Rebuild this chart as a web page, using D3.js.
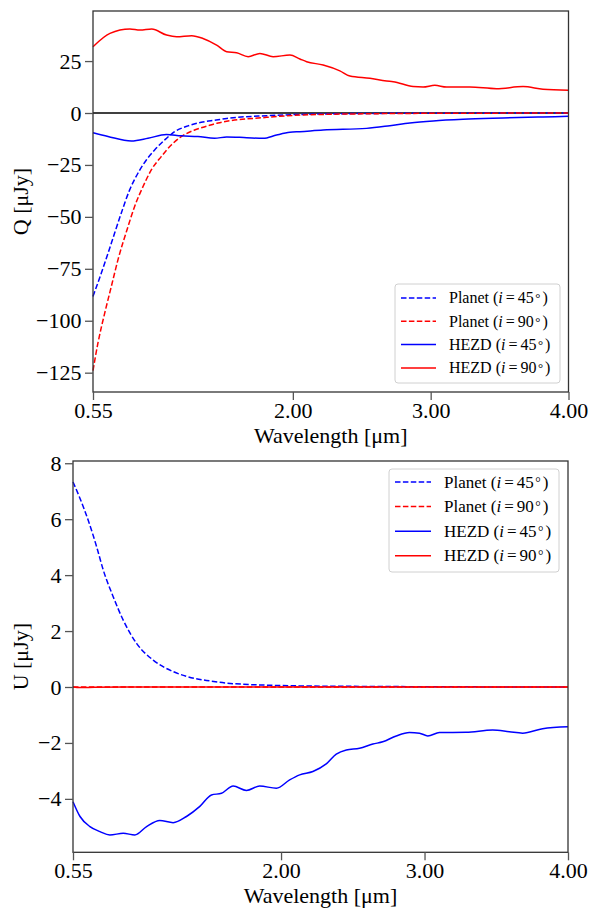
<!DOCTYPE html>
<html>
<head>
<meta charset="utf-8">
<script src="https://cdn.jsdelivr.net/npm/d3@7"></script>
<style>
    body { margin: 0; background: #fff; }
    svg text { font-family: "Liberation Serif", "DejaVu Serif", serif; }
</style>
</head>
<body>
<script>
// wavelength ticks (shared by both panels)
const xTicks = [0.55, 2.00, 3.00, 4.00];
const qTicks = [-125, -100, -75, -50, -25, 0, 25];
const uTicks = [-4, -2, 0, 2, 4, 6, 8];

const seriesNames = ['Planet', 'Planet', 'HEZD', 'HEZD'];
const seriesIncl = ['45', '90', '45', '90'];

// Q panel, [wavelength (um), Q (uJy)]
const qPlanet45 = [[0.55, -88.3], [0.61, -77.1], [0.659, -67.5], [0.707, -57.8], [0.755, -48.2], [0.816, -37.0],
    [0.876, -29.0], [0.937, -22.6], [0.997, -17.8], [1.07, -13.0], [1.142, -9.0], [1.239, -6.2], [1.335, -4.5],
    [1.444, -3.4], [1.52, -2.6], [1.81, -1.3], [2.1, -0.6], [2.5, -0.25], [3.0, -0.1], [3.5, -0.04], [4.0, -0.02]];
const qPlanet90 = [[0.55, -124], [0.586, -110.7], [0.635, -96.3], [0.683, -83.5], [0.731, -70.7], [0.804, -54.7],
    [0.852, -45.0], [0.913, -35.4], [0.973, -27.4], [1.045, -21.0], [1.118, -15.4], [1.19, -11.4], [1.287, -8.2],
    [1.384, -6.2], [1.457, -4.8], [1.81, -2.1], [2.05, -1.0], [2.5, -0.4], [3.0, -0.15], [3.5, -0.06], [4.0, -0.03]];
const qHezd45 = [[0.55, -9.5], [0.659, -11.3], [0.828, -13.5], [0.949, -12.2], [1.082, -10.3], [1.19, -11.0],
    [1.311, -11.3], [1.432, -12.2], [1.52, -11.5], [1.665, -11.9], [1.785, -12.2], [1.882, -10.6], [1.979, -9.3],
    [2.051, -9.0], [2.22, -8.2], [2.535, -7.4], [2.704, -6.1], [2.849, -4.8], [3.018, -3.8], [3.235, -3.0],
    [3.525, -2.4], [3.815, -1.9], [4.0, -1.6]];
const qHezd90 = [[0.55, 31.9], [0.673, 38.3], [0.818, 40.4], [0.891, 39.9], [0.976, 40.4], [1.084, 37.5],
    [1.157, 36.7], [1.266, 37.2], [1.348, 35.9], [1.447, 32.7], [1.52, 29.5], [1.592, 29.0], [1.676, 27.1],
    [1.761, 28.7], [1.857, 27.1], [1.979, 27.9], [2.051, 26.0], [2.1, 24.7], [2.22, 23.1], [2.341, 20.3],
    [2.414, 17.8], [2.559, 16.7], [2.68, 15.4], [2.728, 15.1], [2.873, 12.7], [2.945, 12.5], [3.03, 13.3],
    [3.115, 12.5], [3.284, 12.5], [3.477, 11.7], [3.67, 12.7], [3.815, 11.4], [4.0, 10.9]];

// U panel, [wavelength (um), U (uJy)]
const uPlanet45 = [[0.55, 7.33], [0.599, 6.74], [0.656, 5.96], [0.715, 5.01], [0.761, 4.18], [0.83, 3.23],
    [0.9, 2.39], [0.993, 1.56], [1.109, 0.96], [1.248, 0.55], [1.341, 0.38], [1.5, 0.22], [1.666, 0.12],
    [2.13, 0.04], [2.6, 0.02], [3.0, 0.01], [4.0, 0.0]];
const uPlanet90 = [[0.55, 0], [1.0, 0], [2.0, 0], [3.0, 0], [4.0, 0]];
const uHezd45 = [[0.55, -4.10], [0.599, -4.63], [0.668, -4.99], [0.738, -5.17], [0.807, -5.29], [0.9, -5.23],
    [0.981, -5.29], [1.063, -4.99], [1.155, -4.77], [1.248, -4.85], [1.341, -4.63], [1.434, -4.27], [1.515, -3.86],
    [1.585, -3.80], [1.666, -3.54], [1.759, -3.70], [1.851, -3.54], [1.968, -3.62], [2.06, -3.32], [2.13, -3.14],
    [2.222, -3.02], [2.315, -2.75], [2.385, -2.40], [2.455, -2.25], [2.547, -2.19], [2.64, -2.04], [2.709, -1.96],
    [2.803, -1.75], [2.895, -1.63], [2.965, -1.65], [3.023, -1.75], [3.104, -1.63], [3.29, -1.62], [3.475, -1.54],
    [3.591, -1.60], [3.684, -1.65], [3.823, -1.49], [4.0, -1.42]];
const uHezd90 = [[0.55, 0.0], [0.6, -0.02], [0.7, -0.01], [1.0, 0.0], [2.0, 0.0], [3.0, 0.0], [4.0, 0.0]];

const colors = ['#0000ff', '#ff0000', '#0000ff', '#ff0000'];
const dashes = ['5.5,2.4', '5.5,2.4', null, null];

var svg = d3.select('body').append('svg')
    .attr('width', 590)
    .attr('height', 908);

function drawPanel(p) {
    var xScale = d3.scaleLinear().domain([0.55, 4.0]).range([p.left, p.right]);
    var yScale = d3.scaleLinear().domain(p.yDomain).range([p.bottom, p.top]);

    var g = svg.append('g');

    if (p.zeroLine) {
        g.append('line')
            .attr('x1', p.left).attr('x2', p.right)
            .attr('y1', yScale(0)).attr('y2', yScale(0))
            .attr('stroke', '#000')
            .attr('stroke-width', 1.5);
    }

    var line = d3.line()
        .x(d => xScale(d[0]))
        .y(d => yScale(d[1]))
        .curve(d3.curveMonotoneX);

    p.series.forEach((s, i) => {
        g.append('path')
            .attr('d', line(s))
            .attr('fill', 'none')
            .attr('stroke', colors[i])
            .attr('stroke-width', 1.5)
            .attr('stroke-dasharray', dashes[i]);
    });

    // frame
    g.append('rect')
        .attr('x', p.left).attr('y', p.top)
        .attr('width', p.right - p.left).attr('height', p.bottom - p.top)
        .attr('fill', 'none')
        .attr('stroke', '#333')
        .attr('stroke-width', 1.3);

    var xAxis = d3.axisBottom(xScale).tickValues(xTicks).tickFormat(d3.format('.2f'))
        .tickSize(8).tickPadding(2.5);
    var xg = g.append('g')
        .attr('transform', `translate(0, ${p.bottom})`)
        .call(xAxis);

    var yAxis = d3.axisLeft(yScale).tickValues(p.yTicks).tickFormat(d3.format('d'))
        .tickSize(8).tickPadding(3.5);
    var yg = g.append('g')
        .attr('transform', `translate(${p.left}, 0)`)
        .call(yAxis);

    [xg, yg].forEach(a => {
        a.select('.domain').remove();
        a.selectAll('.tick line').attr('stroke', '#555').attr('stroke-width', 1.3);
        a.selectAll('.tick text').attr('font-size', 22).attr('fill', '#000')
            .attr('font-family', '"Liberation Serif", serif');
    });

    g.append('text')
        .attr('x', (p.left + p.right) / 2)
        .attr('y', p.bottom + 51)
        .attr('text-anchor', 'middle')
        .attr('font-size', 22)
        .text('Wavelength [μm]');

    g.append('text')
        .attr('transform', `translate(28, ${(p.top + p.bottom) / 2}) rotate(-90)`)
        .attr('text-anchor', 'middle')
        .attr('font-size', 22)
        .text(p.yLabel);

    // legend
    var L = p.legend;
    g.append('rect')
        .attr('x', L.x).attr('y', L.y)
        .attr('width', L.w).attr('height', L.h)
        .attr('rx', 3)
        .attr('fill', '#fff').attr('fill-opacity', 0.8)
        .attr('stroke', '#d0d0d0').attr('stroke-width', 1);

    seriesNames.forEach((name, i) => {
        var cy = L.row0 + i * L.step;
        g.append('line')
            .attr('x1', L.h0).attr('x2', L.h1)
            .attr('y1', cy).attr('y2', cy)
            .attr('stroke', colors[i])
            .attr('stroke-width', 1.5)
            .attr('stroke-dasharray', dashes[i]);
        var t = g.append('text')
            .attr('x', L.tx)
            .attr('y', cy + L.fs * 0.33)
            .attr('font-size', L.fs);
        t.append('tspan').text(name + ' (');
        t.append('tspan').attr('font-style', 'italic').text('i');
        t.append('tspan').attr('dx', 3).text('=');
        t.append('tspan').attr('dx', 3).text(seriesIncl[i]);
        t.append('tspan').attr('dx', 1.5).attr('font-size', L.fs * 0.8).attr('dy', -1).text('°');
        t.append('tspan').attr('dx', 2).attr('dy', 1).text(')');
    });
}

drawPanel({
    left: 93, right: 568.5, top: 11, bottom: 392,
    yDomain: [-134.3, 49.1], yTicks: qTicks, yLabel: 'Q [μJy]', zeroLine: true,
    series: [qPlanet45, qPlanet90, qHezd45, qHezd90],
    legend: { x: 395, y: 284, w: 165, h: 99, row0: 298, step: 23.3, fs: 16, h0: 401, h1: 436, tx: 449 }
});

drawPanel({
    left: 73, right: 568, top: 461, bottom: 852.3,
    yDomain: [-5.91, 8.08], yTicks: uTicks, yLabel: 'U [μJy]', zeroLine: false,
    series: [uPlanet45, uPlanet90, uHezd45, uHezd90],
    legend: { x: 389, y: 469, w: 170, h: 103, row0: 482, step: 24.6, fs: 17, h0: 395, h1: 431, tx: 444 }
});
</script>
</body>
</html>
